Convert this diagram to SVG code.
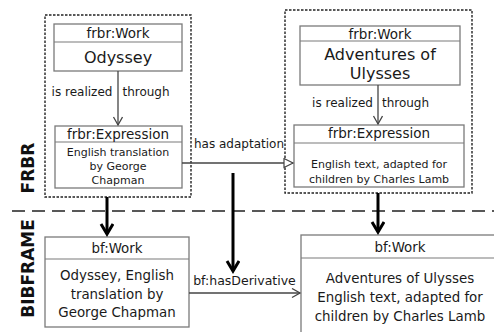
<svg xmlns="http://www.w3.org/2000/svg" width="494" height="332" viewBox="0 0 494 332">
<style>
text{font-family:"DejaVu Sans","Liberation Sans",sans-serif;fill:#1a1a1a;text-anchor:middle}
.box{fill:#fff;stroke:#7a7a7a;stroke-width:1.3}
.div{stroke:#7a7a7a;stroke-width:1.2}
.grp{fill:none;stroke:#222;stroke-width:1.4;stroke-dasharray:2.5 1.5}
.hd{font-size:13.5px}
.big{font-size:16px}
.sm{font-size:11px}
.md{font-size:13.4px}
.lbl{font-size:12px}
.side{font-size:17px;font-weight:bold;fill:#111}
.thin{fill:none;stroke:#444;stroke-width:1.3}
.thick{fill:none;stroke:#000;stroke-width:3}
</style>
<defs>
<marker id="v" markerWidth="12" markerHeight="12" refX="9" refY="5" orient="auto" markerUnits="userSpaceOnUse"><path d="M1,0.5 L9,5 L1,9.5" fill="none" stroke="#444" stroke-width="1.3"/></marker>
<marker id="vt" markerWidth="16" markerHeight="16" refX="12" refY="7" orient="auto" markerUnits="userSpaceOnUse"><path d="M2,1 L12,7 L2,13" fill="none" stroke="#000" stroke-width="3"/></marker>
<marker id="tri" markerWidth="12" markerHeight="12" refX="10" refY="5.5" orient="auto" markerUnits="userSpaceOnUse"><path d="M1,1 L10,5.5 L1,10 Z" fill="#fff" stroke="#444" stroke-width="1.2"/></marker>
</defs>

<line x1="12" y1="211" x2="494" y2="211" stroke="#222" stroke-width="1.7" stroke-dasharray="13 7"/>
<text class="side" transform="translate(34,168) rotate(-90)">FRBR</text>
<text class="side" transform="translate(34,268.5) rotate(-90)">BIBFRAME</text>

<g id="frbr-left">
<rect class="grp" x="45" y="15" width="146" height="182"/>
</g>
<g id="frbr-right">
<rect class="grp" x="285" y="10" width="187" height="183"/>
</g>

<g id="work-odyssey">
<rect class="box" x="54" y="24" width="128" height="47"/>
<line class="div" x1="54" y1="42" x2="182" y2="42"/>
<text class="hd" x="118" y="38">frbr:Work</text>
<text class="big" x="118" y="63">Odyssey</text>
</g>

<g id="expr-chapman">
<rect class="box" x="55" y="126" width="127" height="62"/>
<line class="div" x1="55" y1="142" x2="182" y2="142"/>
<text class="hd" x="118" y="139">frbr:Expression</text>
<text class="sm" x="118" y="156">English translation</text>
<text class="sm" x="118" y="170">by George</text>
<text class="sm" x="118" y="184">Chapman</text>
</g>

<g id="work-ulysses">
<rect class="box" x="300" y="26" width="160" height="59"/>
<line class="div" x1="300" y1="41" x2="460" y2="41"/>
<text class="hd" x="380" y="38.5">frbr:Work</text>
<text class="big" x="380" y="60">Adventures of</text>
<text class="big" x="380" y="79">Ulysses</text>
</g>

<g id="expr-lamb">
<rect class="box" x="294" y="125" width="170" height="62"/>
<line class="div" x1="294" y1="143" x2="464" y2="143"/>
<text class="hd" x="379" y="138">frbr:Expression</text>
<text class="sm" x="379" y="168">English text, adapted for</text>
<text class="sm" x="379" y="183">children by Charles Lamb</text>
</g>

<g id="bf-work-left">
<rect class="box" x="45" y="237" width="144" height="90"/>
<line class="div" x1="45" y1="259" x2="189" y2="259"/>
<text class="md" x="117" y="253">bf:Work</text>
<text class="md" x="117" y="280">Odyssey, English</text>
<text class="md" x="117" y="298.5">translation by</text>
<text class="md" x="117" y="317">George Chapman</text>
</g>

<g id="bf-work-right">
<rect class="box" x="301" y="235" width="198" height="100"/>
<line class="div" x1="301" y1="258" x2="499" y2="258"/>
<text class="md" x="400" y="252">bf:Work</text>
<text class="md" x="400" y="283">Adventures of Ulysses</text>
<text class="md" x="400" y="302">English text, adapted for</text>
<text class="md" x="400" y="321">children by Charles Lamb</text>
</g>

<g id="connectors">
<line class="thin" x1="118" y1="71" x2="118" y2="125" marker-end="url(#v)"/>
<text class="lbl" x="82" y="96">is realized</text>
<text class="lbl" x="146" y="96">through</text>
<line class="thin" x1="378" y1="85" x2="378" y2="124" marker-end="url(#v)"/>
<text class="lbl" x="342.5" y="107">is realized</text>
<text class="lbl" x="405.5" y="107">through</text>
<line class="thin" x1="182" y1="163" x2="293" y2="163" marker-end="url(#tri)"/>
<text class="lbl" x="239" y="148">has adaptation</text>
<line class="thin" x1="189" y1="293" x2="300" y2="293" marker-end="url(#v)"/>
<text x="244.5" y="285" style="font-size:12.5px">bf:hasDerivative</text>
<line class="thick" x1="107" y1="197" x2="107" y2="234" marker-end="url(#vt)"/>
<line class="thick" x1="378" y1="193" x2="378" y2="232" marker-end="url(#vt)"/>
<line class="thick" x1="233" y1="173" x2="233" y2="271" marker-end="url(#vt)"/>
</g>
</svg>
